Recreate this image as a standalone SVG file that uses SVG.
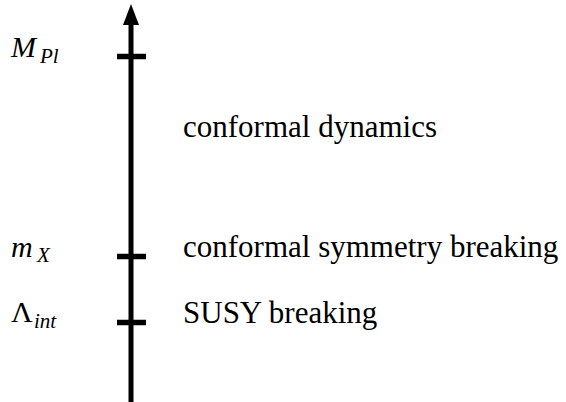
<svg xmlns="http://www.w3.org/2000/svg" width="566" height="402" viewBox="0 0 566 402">
<style>
.t{font-size:31px;fill:#000}
.m{font-style:italic;font-size:30px;fill:#000}
.s{font-size:21px}
.tick{stroke:#000;stroke-width:5.5}
</style>
<rect width="566" height="402" fill="#fff"/>
<g id="connectors">
<line x1="131" y1="22" x2="131" y2="402" stroke="#000" stroke-width="5"/>
<polygon points="131,4 139,25 123,25" fill="#000"/>
</g>
<g id="node-MPl">
<line class="tick" x1="117" y1="56.5" x2="146" y2="56.5"/>
<text class="m" font-family="'Times New Roman'" x="11" y="57">M<tspan class="s" x="40" dy="6">Pl</tspan></text>
</g>
<g id="node-conformal-dynamics">
<text class="t" font-family="'Times New Roman'" x="183" y="137">conformal dynamics</text>
</g>
<g id="node-mX">
<line class="tick" x1="117" y1="256.5" x2="146" y2="256.5"/>
<text class="m" font-family="'Times New Roman'" x="11" y="257">m<tspan class="s" x="37" dy="5">X</tspan></text>
<text class="t" font-family="'Times New Roman'" x="183" y="257">conformal symmetry breaking</text>
</g>
<g id="node-Lambda">
<line class="tick" x1="117" y1="322.5" x2="146" y2="322.5"/>
<text class="m" font-family="'Times New Roman'" x="11" y="322" style="font-style:normal">Λ<tspan class="s" x="34" dy="6" style="font-style:italic">int</tspan></text>
<text class="t" font-family="'Times New Roman'" x="183" y="323">SUSY breaking</text>
</g>
</svg>
